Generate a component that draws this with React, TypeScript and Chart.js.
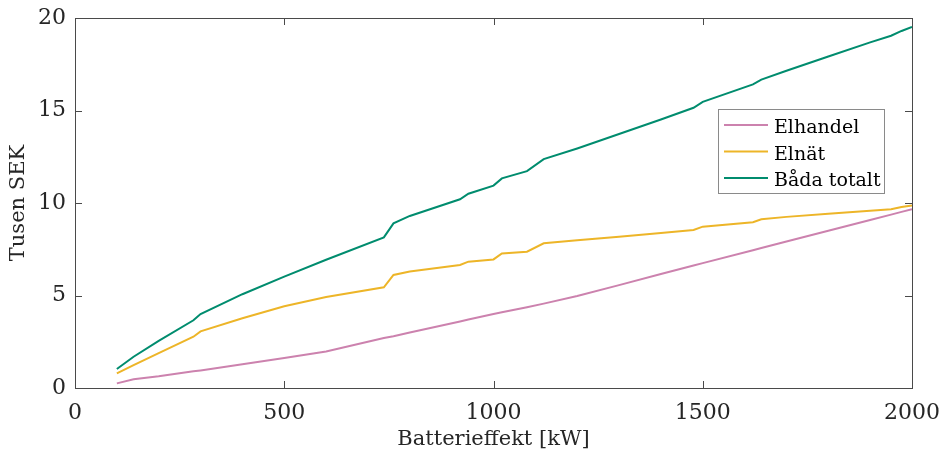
import React, { useEffect, useRef } from "react";
import { Chart, registerables } from "chart.js";

Chart.register(...registerables);

const batteryPower = [100, 140, 200, 283, 300, 400, 500, 600, 738, 761, 800, 920, 940, 1000, 1020, 1080, 1120, 1200, 1300, 1400, 1478, 1500, 1620, 1640, 1700, 1800, 1900, 1950, 1975, 2000];
const elhandel = [0.25, 0.47, 0.63, 0.9, 0.95, 1.28, 1.62, 1.97, 2.7, 2.8, 3.0, 3.6, 3.7, 4.0, 4.09, 4.37, 4.56, 4.97, 5.56, 6.16, 6.62, 6.75, 7.45, 7.57, 7.92, 8.5, 9.08, 9.37, 9.52, 9.66];
const elnat = [0.79, 1.24, 1.88, 2.77, 3.06, 3.77, 4.42, 4.92, 5.44, 6.11, 6.3, 6.65, 6.83, 6.95, 7.27, 7.37, 7.82, 7.98, 8.18, 8.38, 8.54, 8.72, 8.96, 9.12, 9.25, 9.42, 9.58, 9.66, 9.78, 9.86];
const badaTotalt = [1.03, 1.69, 2.55, 3.66, 4.0, 5.07, 6.02, 6.93, 8.14, 8.9, 9.3, 10.2, 10.5, 10.94, 11.33, 11.72, 12.37, 12.95, 13.73, 14.51, 15.15, 15.47, 16.41, 16.67, 17.15, 17.92, 18.68, 19.04, 19.3, 19.52];

const seriesLabels = ["Elhandel", "Elnät", "Båda totalt"];
const seriesColors = ["#CC82AE", "#EDB528", "#008C6E"];
const xTicks = [0, 500, 1000, 1500, 2000];
const yTicks = [0, 5, 10, 15, 20];

const FONT = "'DejaVu Serif', serif";

const framePlugin = {
  id: "frameTicks",
  afterDatasetsDraw(chart: any) {
    const { ctx, chartArea } = chart;
    const xs = chart.scales.x;
    const ys = chart.scales.y;
    const L = 7;
    ctx.save();
    ctx.strokeStyle = "#4a4a4a";
    ctx.lineWidth = 1;
    ctx.beginPath();
    xTicks.forEach((v) => {
      const px = Math.round(xs.getPixelForValue(v)) + 0.5;
      ctx.moveTo(px, chartArea.bottom);
      ctx.lineTo(px, chartArea.bottom - L);
      ctx.moveTo(px, chartArea.top);
      ctx.lineTo(px, chartArea.top + L);
    });
    yTicks.forEach((v) => {
      const py = Math.round(ys.getPixelForValue(v)) + 0.5;
      ctx.moveTo(chartArea.left, py);
      ctx.lineTo(chartArea.left + L, py);
      ctx.moveTo(chartArea.right, py);
      ctx.lineTo(chartArea.right - L, py);
    });
    ctx.stroke();
    ctx.strokeRect(
      Math.round(chartArea.left) + 0.5,
      Math.round(chartArea.top) + 0.5,
      Math.round(chartArea.right - chartArea.left),
      Math.round(chartArea.bottom - chartArea.top)
    );
    ctx.restore();
  },
};

const legendPlugin = {
  id: "boxLegend",
  afterDraw(chart: any) {
    const { ctx, chartArea } = chart;
    const boxRight = chartArea.right - 28;
    const boxLeft = boxRight - 166;
    const boxTop = chartArea.top + 91;
    const boxH = 84;
    ctx.save();
    ctx.fillStyle = "#ffffff";
    ctx.fillRect(boxLeft, boxTop, boxRight - boxLeft, boxH);
    ctx.strokeStyle = "#8a8a8a";
    ctx.lineWidth = 1;
    ctx.strokeRect(Math.round(boxLeft) + 0.5, Math.round(boxTop) + 0.5, boxRight - boxLeft, boxH);
    ctx.font = `19px ${FONT}`;
    ctx.textBaseline = "alphabetic";
    ctx.textAlign = "left";
    chart.data.datasets.forEach((ds: any, i: number) => {
      const base = boxTop + 24 + i * 26.5;
      const ly = base - 8;
      ctx.strokeStyle = ds.borderColor;
      ctx.lineWidth = 2;
      ctx.beginPath();
      ctx.moveTo(boxLeft + 6, ly);
      ctx.lineTo(boxLeft + 50, ly);
      ctx.stroke();
      ctx.fillStyle = "#000000";
      ctx.fillText(ds.label, boxLeft + 56, base);
    });
    ctx.restore();
  },
};

export default function App() {
  const canvasRef = useRef<HTMLCanvasElement | null>(null);

  useEffect(() => {
    if (!canvasRef.current) return;
    const series = [elhandel, elnat, badaTotalt];
    const chart = new Chart(canvasRef.current, {
      type: "line",
      data: {
        datasets: series.map((vals, i) => ({
          label: seriesLabels[i],
          data: batteryPower.map((x, j) => ({ x, y: vals[j] })),
          borderColor: seriesColors[i],
          backgroundColor: seriesColors[i],
          borderWidth: 2,
          pointRadius: 0,
          tension: 0,
          fill: false,
        })),
      },
      options: {
        responsive: false,
        animation: false,
        layout: { padding: { top: 18, right: 30, left: 0, bottom: 0 } },
        plugins: {
          legend: { display: false },
          tooltip: { enabled: false },
        },
        scales: {
          x: {
            type: "linear",
            min: 0,
            max: 2000,
            afterFit: (s: any) => {
              s.height = 64;
              s.paddingLeft = 0;
              s.paddingRight = 0;
            },
            afterBuildTicks: (s: any) => {
              s.ticks = xTicks.map((v) => ({ value: v }));
            },
            grid: { display: false, drawTicks: false },
            border: { display: false },
            ticks: {
              padding: 12,
              color: "#262626",
              maxRotation: 0,
              font: { family: FONT, size: 22 },
              callback: (v: any) => String(v),
            },
            title: {
              display: true,
              text: "Batterieffekt [kW]",
              color: "#262626",
              font: { family: FONT, size: 21 },
              padding: { top: 2, bottom: 0 },
            },
          },
          y: {
            type: "linear",
            min: 0,
            max: 20,
            afterFit: (s: any) => {
              s.width = 75;
              s.paddingTop = 0;
              s.paddingBottom = 0;
            },
            afterBuildTicks: (s: any) => {
              s.ticks = yTicks.map((v) => ({ value: v }));
            },
            grid: { display: false, drawTicks: false },
            border: { display: false },
            ticks: {
              padding: 9,
              color: "#262626",
              font: { family: FONT, size: 22 },
              callback: (v: any) => String(v),
            },
            title: {
              display: true,
              text: "Tusen SEK",
              color: "#262626",
              font: { family: FONT, size: 21 },
              padding: { top: 6, bottom: 0 },
            },
          },
        },
      },
      plugins: [framePlugin, legendPlugin],
    });
    return () => chart.destroy();
  }, []);

  return (
    <div style={{ position: "fixed", left: 0, top: 0, width: 942, height: 452, background: "#ffffff" }}>
      <canvas ref={canvasRef} width={942} height={452} style={{ width: 942, height: 452 }} />
    </div>
  );
}
